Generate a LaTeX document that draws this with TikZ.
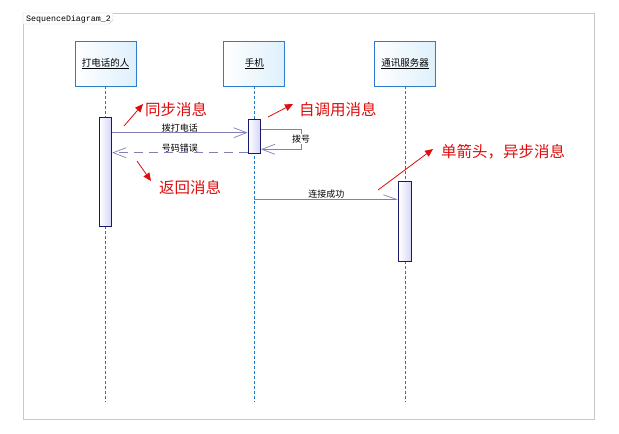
\documentclass[tikz,border=0pt]{standalone}
\usepackage{fontspec}
\setmainfont{Noto Sans CJK SC}
\newfontfamily\titlefont{Liberation Mono}
\usetikzlibrary{arrows.meta}
\usetikzlibrary{positioning}
\definecolor{lifeblue}{RGB}{30,120,195}
\definecolor{headblue}{RGB}{45,125,205}
\definecolor{headfill}{RGB}{222,240,252}
\definecolor{barline}{RGB}{25,25,105}
\definecolor{barfill}{RGB}{212,212,246}
\definecolor{msgline}{RGB}{128,128,182}
\definecolor{notered}{RGB}{222,12,12}
\definecolor{framegray}{RGB}{200,200,200}
\tikzset{
    head/.style={draw=headblue, line width=0.8pt, left color=white, right color=headfill,
        minimum width=61pt, minimum height=45pt, inner sep=0pt, font=\fontsize{9.5}{11}\selectfont},
    bar/.style={draw=barline, line width=0.9pt, left color=white, right color=barfill,
        minimum width=12.5pt, inner sep=0pt},
    life/.style={lifeblue, line width=0.7pt, dash pattern=on 3pt off 2pt},
    msg/.style={msgline, line width=0.7pt, -{Straight Barb[length=13pt,width=10pt]}},
    async/.style={msgline, line width=0.7pt, -{Straight Barb[left,length=13pt,width=9pt]}},
    lbl/.style={text=black, inner sep=0.5pt, font=\fontsize{9}{10}\selectfont},
    note/.style={anchor=west, text=notered, inner sep=0pt, font=\fontsize{15.5}{17}\selectfont},
    pointer/.style={notered, line width=0.8pt, -{Triangle[length=8pt,width=7pt]}},
}
\begin{document}
\begin{tikzpicture}[x=1pt, y=-1pt]
    \useasboundingbox (0,0) rectangle (619,434);
    \draw[framegray] (23,13) rectangle (594,419);
    \draw[framegray, fill=white] (23,13) -- (113,13) -- (113,20) -- (109,24) -- (23,24) -- cycle;
    \node[anchor=west, inner sep=0pt, font=\titlefont\fontsize{8.3}{9}\selectfont] (title) at (26,19) {SequenceDiagram\_2};

    \node[head] (caller) at (105.5,63.5) {\underline{打电话的人}};
    \node[head, right=87pt of caller] (phone) {\underline{手机}};
    \node[head, right=89pt of phone] (server) {\underline{通讯服务器}};

    \coordinate[below=316pt of caller.south] (callerend);
    \coordinate[below=316pt of phone.south] (phoneend);
    \coordinate[below=316pt of server.south] (serverend);
    \draw[life] (caller) -- (callerend);
    \draw[life] (phone) -- (phoneend);
    \draw[life] (server) -- (serverend);

    \node[bar, minimum height=109pt, below=31pt of caller] (callerbar) {};
    \node[bar, minimum height=34pt, below=33pt of phone] (phonebar) {};
    \node[bar, minimum height=80pt, below=95pt of server] (serverbar) {};

    \coordinate (m1) at (0,132.7);
    \coordinate (m2) at (0,152.7);
    \coordinate (m3) at (0,199.3);
    \coordinate (s1) at (0,129.3);
    \coordinate (s2) at (0,149.3);

    \draw[msg] (callerbar.east |- m1) -- node[above, lbl] (l1) {拨打电话} (phonebar.west |- m1);
    \draw[msg] (phonebar.east |- s1) -- ++(40,0) |- node[pos=0.25, lbl, fill=white, inner sep=1pt] (l2) {拨号} (phonebar.east |- s2);
    \draw[msg, dash pattern=on 9pt off 6pt] (phonebar.west |- m2) -- node[above, lbl] (l3) {号码错误} (callerbar.east |- m2);
    \draw[async] (phone |- m3) -- node[above, lbl] (l4) {连接成功} (serverbar.west |- m3);

    % notes
    \node[note] (tsync) at (145,110) {同步消息};
    \node[note] (tself) at (299,110) {自调用消息};
    \node[note] (tret) at (159,188) {返回消息};
    \node[note] (tasync) at (441,152) {单箭头，异步消息};
    \coordinate (s0) at (124,126);
    \coordinate (c0) at (268,117);
    \coordinate (r0) at (137,161);
    \coordinate (a0) at (378,190);
    \draw[pointer] (s0) -- ([xshift=-2pt,yshift=6pt]tsync.west);
    \draw[pointer] (c0) -- ([xshift=-6pt,yshift=6pt]tself.west);
    \draw[pointer] (r0) -- ([xshift=-8pt,yshift=7pt]tret.west);
    \draw[pointer] (a0) -- ([xshift=-8pt,yshift=3pt]tasync.west);
\end{tikzpicture}
\end{document}
